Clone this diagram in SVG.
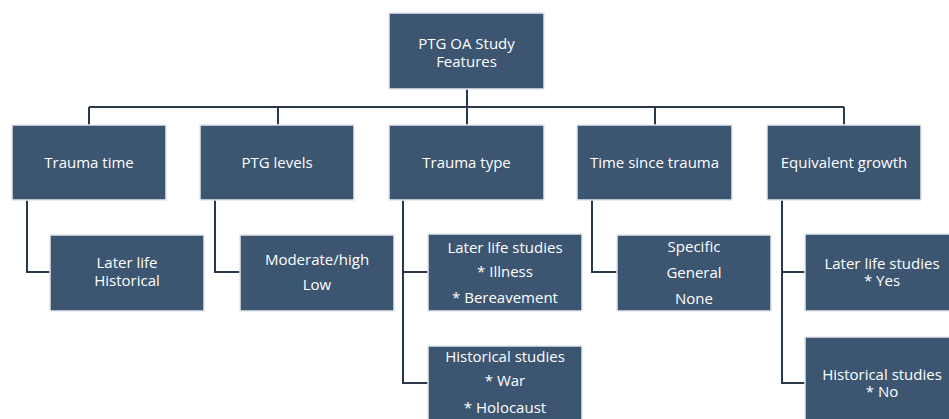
<svg xmlns="http://www.w3.org/2000/svg" width="949" height="419" viewBox="0 0 949 419">
<style>
.box{fill:#3c5571;stroke:#e3e8ee;stroke-width:1.5}
.t{font-family:"Open Sans","Liberation Sans",sans-serif;font-size:15px;fill:#ffffff;text-anchor:middle}
.c{fill:none;stroke:#2b3a4b;stroke-width:2}
</style>
<rect width="949" height="419" fill="#ffffff"/>
<g id="connectors">
<path class="c" d="M467 89V125M89 107H844M89 107V125M278 107V125M655 107V125M844 107V125"/>
<path class="c" d="M27 200V272H50"/>
<path class="c" d="M215 200V272H240"/>
<path class="c" d="M403 200V383H428M403 272H428"/>
<path class="c" d="M592 200V272H617"/>
<path class="c" d="M782 200V383H805M782 272H805"/>
</g>
<g id="root"><rect class="box" x="389" y="13" width="155" height="76"/><text class="t" x="466.5" y="49">PTG OA Study</text><text class="t" x="466.5" y="67">Features</text></g>
<g id="trauma-time"><rect class="box" x="12" y="125" width="154" height="75"/><text class="t" x="89" y="168">Trauma time</text></g>
<g id="ptg-levels"><rect class="box" x="200" y="125" width="154" height="75"/><text class="t" x="277" y="168">PTG levels</text></g>
<g id="trauma-type"><rect class="box" x="389" y="125" width="155" height="75"/><text class="t" x="466.5" y="168">Trauma type</text></g>
<g id="time-since"><rect class="box" x="577" y="125" width="155" height="75"/><text class="t" x="654.5" y="168">Time since trauma</text></g>
<g id="equivalent"><rect class="box" x="767" y="125" width="154" height="75"/><text class="t" x="844" y="168">Equivalent growth</text></g>
<g id="tt-child"><rect class="box" x="50" y="235" width="154" height="76"/><text class="t" x="127" y="268">Later life</text><text class="t" x="127" y="286">Historical</text></g>
<g id="ptg-child"><rect class="box" x="240" y="235" width="154" height="76"/><text class="t" x="317" y="265">Moderate/high</text><text class="t" x="317" y="290">Low</text></g>
<g id="type-later"><rect class="box" x="428" y="234" width="154" height="77"/><text class="t" x="505" y="253">Later life studies</text><text class="t" x="505" y="277">* Illness</text><text class="t" x="505" y="303">* Bereavement</text></g>
<g id="type-hist"><rect class="box" x="428" y="346" width="154" height="80"/><text class="t" x="505" y="362">Historical studies</text><text class="t" x="505" y="386">* War</text><text class="t" x="505" y="413">* Holocaust</text></g>
<g id="since-child"><rect class="box" x="617" y="235" width="154" height="76"/><text class="t" x="694" y="252">Specific</text><text class="t" x="694" y="278">General</text><text class="t" x="694" y="304">None</text></g>
<g id="eq-later"><rect class="box" x="805" y="234" width="155" height="77"/><text class="t" x="882" y="269">Later life studies</text><text class="t" x="882" y="286">* Yes</text></g>
<g id="eq-hist"><rect class="box" x="805" y="337" width="155" height="90"/><text class="t" x="882" y="380">Historical studies</text><text class="t" x="882" y="397">* No</text></g>
</svg>
